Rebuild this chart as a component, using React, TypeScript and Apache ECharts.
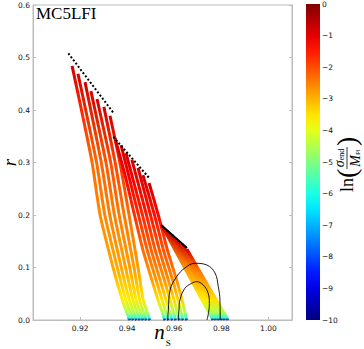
import React, { useEffect, useRef } from "react";
import * as echarts from "echarts";

// axis ranges
const X_MIN = 0.9;
const X_MAX = 1.01;
const X_STEP = 0.02;
const Y_MIN = 0;
const Y_MAX = 0.6;
const Y_STEP = 0.1;
const V_MIN = -10;
const V_MAX = 0;
const V_STEP = 1;

// tracks: [n_s, r, ln(sigma_end/M_Pl)]
const p6Tracks = [
  [[0.9166, 0.484, -0.8], [0.9204, 0.404, -1.6], [0.9251, 0.3, -2.3], [0.9285, 0.2, -2.6], [0.934, 0.1, -2.9], [0.9378, 0.04, -3.6], [0.9398, 0.015, -4.5], [0.9408, 0.004, -5.8], [0.9412, 0, -9.5]],
  [[0.9191, 0.469, -0.8], [0.927, 0.3, -2.25], [0.9305, 0.2, -2.55], [0.9358, 0.1, -2.9], [0.9393, 0.04, -3.6], [0.9413, 0.015, -4.5], [0.9422, 0.004, -5.8], [0.9426, 0, -9.5]],
  [[0.9221, 0.453, -0.8], [0.929, 0.3, -2.2], [0.9326, 0.2, -2.5], [0.9375, 0.1, -2.85], [0.9408, 0.04, -3.6], [0.9427, 0.015, -4.5], [0.9436, 0.004, -5.8], [0.944, 0, -9.5]],
  [[0.9246, 0.436, -0.8], [0.931, 0.3, -2.1], [0.9346, 0.2, -2.5], [0.9393, 0.1, -2.85], [0.9423, 0.04, -3.55], [0.9442, 0.015, -4.5], [0.945, 0.004, -5.8], [0.9454, 0, -9.5]],
  [[0.9272, 0.421, -0.8], [0.933, 0.3, -2.0], [0.9366, 0.2, -2.45], [0.9411, 0.1, -2.8], [0.9437, 0.04, -3.55], [0.9456, 0.015, -4.5], [0.9464, 0.004, -5.8], [0.9468, 0, -9.5]],
  [[0.9301, 0.406, -0.8], [0.9349, 0.3, -1.9], [0.9387, 0.2, -2.4], [0.9429, 0.1, -2.8], [0.9452, 0.04, -3.5], [0.947, 0.015, -4.5], [0.9478, 0.004, -5.8], [0.9482, 0, -9.5]],
  [[0.9327, 0.389, -0.8], [0.9369, 0.3, -1.7], [0.9408, 0.2, -2.35], [0.9446, 0.1, -2.8], [0.9467, 0.04, -3.5], [0.9485, 0.015, -4.5], [0.9493, 0.004, -5.8], [0.9497, 0, -9.5]],
];

const p4Tracks = [
  [[0.9348, 0.347, -0.8], [0.9391, 0.276, -1.2], [0.9431, 0.2, -1.7], [0.9467, 0.133, -2.3], [0.9505, 0.076, -2.8], [0.9531, 0.038, -3.5], [0.9549, 0.015, -4.5], [0.9557, 0.004, -5.8], [0.9561, 0, -9.5]],
  [[0.9374, 0.333, -0.8], [0.9406, 0.276, -1.15], [0.9448, 0.2, -1.65], [0.9485, 0.133, -2.25], [0.9523, 0.076, -2.75], [0.9548, 0.038, -3.5], [0.9565, 0.015, -4.5], [0.9572, 0.004, -5.8], [0.9576, 0, -9.5]],
  [[0.9395, 0.318, -0.8], [0.942, 0.276, -1.1], [0.9465, 0.2, -1.6], [0.9502, 0.133, -2.2], [0.954, 0.076, -2.75], [0.9565, 0.038, -3.45], [0.9581, 0.015, -4.5], [0.9588, 0.004, -5.8], [0.9592, 0, -9.5]],
  [[0.942, 0.305, -0.8], [0.9482, 0.2, -1.5], [0.9519, 0.133, -2.15], [0.9558, 0.076, -2.7], [0.9582, 0.038, -3.45], [0.9597, 0.015, -4.5], [0.9603, 0.004, -5.8], [0.9607, 0, -9.5]],
  [[0.9446, 0.29, -0.8], [0.9499, 0.2, -1.45], [0.9537, 0.133, -2.1], [0.9575, 0.076, -2.65], [0.9599, 0.038, -3.4], [0.9613, 0.015, -4.5], [0.9619, 0.004, -5.8], [0.9623, 0, -9.5]],
  [[0.9467, 0.276, -0.8], [0.9516, 0.2, -1.4], [0.9554, 0.133, -2.05], [0.9593, 0.076, -2.6], [0.9616, 0.038, -3.4], [0.9629, 0.015, -4.5], [0.9634, 0.004, -5.8], [0.9638, 0, -9.5]],
  [[0.9493, 0.261, -0.8], [0.9532, 0.2, -1.3], [0.9571, 0.133, -2.0], [0.961, 0.076, -2.6], [0.9633, 0.038, -3.35], [0.9645, 0.015, -4.5], [0.965, 0.004, -5.8], [0.9654, 0, -9.5]],
];

const p2Tracks = [
  [[0.9548, 0.179, -0.8], [0.9649, 0.095, -2.8], [0.9718, 0.038, -3.6], [0.9746, 0.015, -4.5], [0.976, 0.004, -5.8], [0.9764, 0, -9.5]],
  [[0.9569, 0.17, -0.8], [0.966, 0.095, -2.7], [0.973, 0.038, -3.6], [0.9758, 0.015, -4.5], [0.9773, 0.004, -5.8], [0.9777, 0, -9.5]],
  [[0.959, 0.162, -0.8], [0.9673, 0.095, -2.6], [0.9743, 0.038, -3.55], [0.9771, 0.015, -4.5], [0.9786, 0.004, -5.8], [0.979, 0, -9.5]],
  [[0.9611, 0.152, -0.8], [0.9683, 0.095, -2.5], [0.9755, 0.038, -3.5], [0.9783, 0.015, -4.5], [0.9799, 0.004, -5.8], [0.9803, 0, -9.5]],
  [[0.9633, 0.145, -0.8], [0.9695, 0.095, -2.45], [0.9767, 0.038, -3.5], [0.9796, 0.015, -4.5], [0.9811, 0.004, -5.8], [0.9815, 0, -9.5]],
  [[0.9654, 0.135, -0.8], [0.9705, 0.095, -2.4], [0.9779, 0.038, -3.45], [0.9809, 0.015, -4.5], [0.9824, 0.004, -5.8], [0.9828, 0, -9.5]],
];

// reference lines for each p
const p6Line = [[0.915, 0.508], [0.9341, 0.395]];
const p4Line = [[0.9341, 0.349], [0.9497, 0.2686]];
const p2Line = [[0.9544, 0.181], [0.9654, 0.1371]];

// label anchors: [p, n_s, r]
const pLabels = [["6", 0.9242, 0.4604], ["4", 0.9398, 0.3238], ["2", 0.9603, 0.1657]];

// Planck contours
const contourOuter = [[0.9572, 0], [0.9575, 0.02], [0.9582, 0.057], [0.961, 0.0825], [0.9645, 0.099], [0.9688, 0.108], [0.9738, 0.1048], [0.9773, 0.0895], [0.9787, 0.0634], [0.9794, 0.038], [0.9795, 0]];
const contourInner = [[0.9617, 0], [0.962, 0.02], [0.9624, 0.038], [0.9645, 0.0604], [0.9674, 0.0699], [0.9695, 0.073], [0.9723, 0.0667], [0.9744, 0.0509], [0.9749, 0.0318], [0.9746, 0.015], [0.9739, 0]];

const TITLE = "MC5LFI";

function jet(t: number): string {
  const c = (v: number) => Math.round(255 * Math.min(1, Math.max(0, v)));
  return `rgb(${c(1.5 - Math.abs(4 * t - 3))},${c(1.5 - Math.abs(4 * t - 2))},${c(1.5 - Math.abs(4 * t - 1))})`;
}
const norm = (v: number) => (v - V_MIN) / (V_MAX - V_MIN);

function trackSeries(track: number[][]) {
  const rTop = track[0][1];
  const rBot = track[track.length - 1][1];
  const stops = track.map((p) => ({ offset: (rTop - p[1]) / (rTop - rBot), color: jet(norm(p[2])) }));
  return {
    type: "line",
    data: track.map((p) => [p[0], p[1]]),
    showSymbol: false,
    symbol: "none",
    smooth: 0.2,
    silent: true,
    z: 2,
    lineStyle: { width: 3, color: new echarts.graphic.LinearGradient(0, 0, 0, 1, stops) },
  };
}

const SERIF = '"Liberation Serif", "Times New Roman", serif';
const SANS = '"DejaVu Sans", sans-serif';
const SPINE = "#bdbdbd";

export default function App() {
  const ref = useRef<HTMLDivElement>(null);
  useEffect(() => {
    document.body.style.margin = "0";
    const chart = echarts.init(ref.current!, null, { renderer: "svg" });
    const cbStops: any[] = [];
    for (let k = 0; k <= 20; k++) cbStops.push({ offset: k / 20, color: jet(1 - k / 20) });

    const series: any[] = [];
    [...p6Tracks, ...p4Tracks, ...p2Tracks].forEach((t) => series.push(trackSeries(t)));
    const guide = (d: number[][], dotted: boolean) => ({
      type: "line",
      data: d,
      showSymbol: false,
      symbol: "none",
      silent: true,
      z: 4,
      lineStyle: { color: "#000", width: 2, type: dotted ? [2, 2] : "solid" },
    });
    series.push(guide(p6Line, true), guide(p4Line, true), guide(p2Line, false));
    const contour = (d: number[][]) => ({
      type: "line",
      data: d,
      showSymbol: false,
      symbol: "none",
      smooth: 0.4,
      silent: true,
      z: 4,
      lineStyle: { color: "#000", width: 0.9 },
    });
    series.push(contour(contourOuter), contour(contourInner));
    series.push({
      type: "scatter",
      data: pLabels.map((l) => ({ name: l[0], value: [l[1], l[2]] })),
      symbolSize: 1,
      itemStyle: { opacity: 0 },
      silent: true,
      z: 5,
      label: {
        show: true,
        position: [0, 0],
        align: "left",
        verticalAlign: "middle",
        formatter: (p: any) => `{i|p}{n|\u2009=\u2009${p.name}}`,
        rich: {
          i: { fontFamily: SERIF, fontStyle: "italic", fontSize: 14, color: "#000" },
          n: { fontFamily: SERIF, fontSize: 14, color: "#000" },
        },
      },
    });
    series.push({
      type: "bar",
      xAxisIndex: 1,
      yAxisIndex: 2,
      data: [V_MIN],
      barWidth: "100%",
      silent: true,
      itemStyle: { color: new echarts.graphic.LinearGradient(0, 0, 0, 1, cbStops) },
    });

    chart.setOption({
      animation: false,
      grid: [
        { left: 33, top: 5, width: 259, height: 315, show: true, borderColor: SPINE, borderWidth: 1, outerBoundsMode: "none", containLabel: false },
        { left: 306, top: 4, width: 14, height: 316, outerBoundsMode: "none", containLabel: false },
      ],
      xAxis: [
        {
          type: "value",
          gridIndex: 0,
          min: X_MIN,
          max: X_MAX,
          interval: X_STEP,
          name: "{n|n}{s|S}",
          nameLocation: "middle",
          nameGap: 1,
          nameMoveOverlap: false,
          nameTextStyle: {
            rich: {
              n: { fontFamily: SERIF, fontStyle: "italic", fontSize: 21, lineHeight: 22, verticalAlign: "top", color: "#000" },
              s: { fontFamily: SERIF, fontSize: 9, lineHeight: 9, padding: [17, 0, 0, 1], verticalAlign: "top", color: "#000" },
            },
          },
          axisLine: { lineStyle: { color: SPINE } },
          axisTick: { inside: true, length: 3, lineStyle: { color: SPINE } },
          splitLine: { show: false },
          axisLabel: {
            showMinLabel: false,
            showMaxLabel: false,
            fontFamily: SANS,
            fontSize: 7.5,
            color: "#111",
            margin: 4,
            formatter: (v: number) => v.toFixed(2),
          },
        },
        { type: "category", gridIndex: 1, data: ["cb"], show: false },
      ],
      yAxis: [
        {
          type: "value",
          gridIndex: 0,
          min: Y_MIN,
          max: Y_MAX,
          interval: Y_STEP,
          name: "r",
          nameLocation: "middle",
          nameGap: 14,
          nameMoveOverlap: false,
          nameTextStyle: { fontFamily: SERIF, fontStyle: "italic", fontSize: 19, color: "#000" },
          axisLine: { show: true, lineStyle: { color: SPINE } },
          axisTick: { show: true, inside: true, length: 3, lineStyle: { color: SPINE } },
          splitLine: { show: false },
          axisLabel: { fontFamily: SANS, fontSize: 7.5, color: "#111", margin: 3, formatter: (v: number) => v.toFixed(1) },
        },
        {
          type: "value",
          gridIndex: 0,
          position: "right",
          min: Y_MIN,
          max: Y_MAX,
          interval: Y_STEP,
          axisLine: { show: true, lineStyle: { color: SPINE } },
          axisTick: { show: true, inside: true, length: 3, lineStyle: { color: SPINE } },
          axisLabel: { show: false },
          splitLine: { show: false },
        },
        {
          type: "value",
          gridIndex: 1,
          position: "right",
          min: V_MIN,
          max: V_MAX,
          interval: V_STEP,
          axisLine: { show: false },
          axisTick: { show: false },
          splitLine: { show: false },
          axisLabel: {
            fontFamily: SANS,
            fontSize: 7.5,
            color: "#111",
            margin: 2,
            formatter: (v: number) => String(v).replace("-", "\u2212"),
          },
        },
      ],
      graphic: [
        {
          type: "text",
          x: 36,
          y: 5,
          style: { text: TITLE, font: `17px ${SERIF}`, fill: "#000", align: "left", verticalAlign: "top" },
        },
        {
          type: "group",
          x: 347,
          y: 162,
          rotation: Math.PI / 2,
          children: [
            { type: "text", x: -30, y: 0, style: { text: "ln", font: `18px ${SERIF}`, fill: "#000", align: "left", verticalAlign: "middle" } },
            { type: "text", x: -16, y: -1, style: { text: "(", font: `28px ${SERIF}`, fill: "#000", align: "left", verticalAlign: "middle" } },
            {
              type: "text",
              x: 4,
              y: -8,
              style: {
                text: "{a|σ}{b|end}",
                align: "center",
                verticalAlign: "middle",
                rich: {
                  a: { fontFamily: SERIF, fontStyle: "italic", fontSize: 14, fill: "#000" },
                  b: { fontFamily: SERIF, fontSize: 8, fill: "#000", padding: [5, 0, 0, 0] },
                },
              },
            },
            { type: "line", shape: { x1: -7, y1: 0, x2: 15, y2: 0 }, style: { stroke: "#000", lineWidth: 0.8 } },
            {
              type: "text",
              x: 4,
              y: 8,
              style: {
                text: "{a|M}{b|Pl}",
                align: "center",
                verticalAlign: "middle",
                rich: {
                  a: { fontFamily: SERIF, fontStyle: "italic", fontSize: 14, fill: "#000" },
                  b: { fontFamily: SERIF, fontSize: 7, fill: "#000", padding: [5, 0, 0, 0] },
                },
              },
            },
            { type: "text", x: 16, y: -1, style: { text: ")", font: `28px ${SERIF}`, fill: "#000", align: "left", verticalAlign: "middle" } },
          ],
        },
      ],
      series,
    });
    return () => chart.dispose();
  }, []);
  return <div ref={ref} style={{ width: 364, height: 349 }} />;
}
